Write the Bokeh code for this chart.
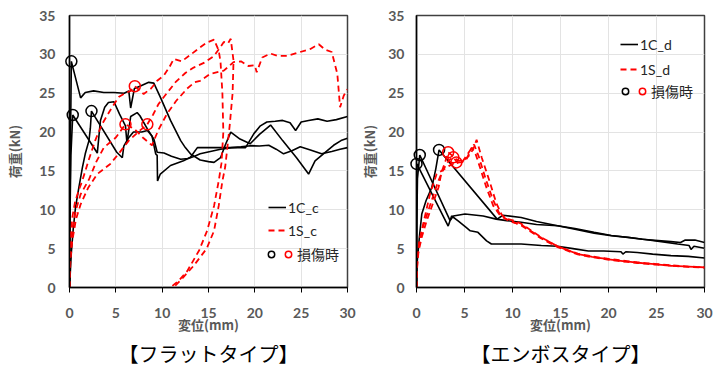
from bokeh.plotting import figure
from bokeh.models import Legend, LegendItem, Title, Range1d, FixedTicker
from bokeh.layouts import row
from bokeh.embed import file_html
from bokeh.resources import INLINE

# ---------------- data ----------------
x_ticks = [0, 5, 10, 15, 20, 25, 30]
y_ticks = [0, 5, 10, 15, 20, 25, 30, 35]

# Flat type, 1C_c (three specimens)
c1_x = [0, 0.05, 0.1, 0.2, 1.2, 1.7, 2.6, 3.7, 4.8, 5.9, 6.4, 6.6, 7.0, 7.6, 8.55, 9.1, 9.8, 10.9, 12.0, 12.5, 13.05, 14.1, 15.0, 15.6, 16.3, 16.8, 17.4, 18.4, 19.5, 20.5, 21.7, 23.0, 24.5, 25.8, 26.5, 27.4, 28.5, 29.3, 30]
c1_y = [0, 8, 18, 29.1, 24.4, 25.1, 25.3, 25.1, 25.1, 25.0, 25.3, 23.1, 25.6, 25.9, 26.4, 26.3, 24.5, 21.5, 18.9, 18.0, 17.2, 16.4, 16.2, 16.1, 16.7, 18.3, 20.0, 19.1, 18.5, 19.7, 20.9, 18.9, 16.7, 14.6, 16.3, 17.2, 18.3, 18.9, 19.2]
c2_x = [0, 0.05, 0.15, 0.35, 3.0, 3.34, 3.8, 4.2, 4.8, 5.4, 6.04, 6.2, 6.6, 7.3, 7.6, 8.4, 9.1, 9.46, 10.2, 11.0, 12.0, 12.8, 13.5, 14.1, 15.2, 16.3, 17.5, 18.5, 19.5, 20.5, 21.5, 22.3, 23.1, 24.0, 24.9, 26.0, 27.2, 28.3, 29.2, 30]
c2_y = [0, 9, 17, 22.2, 17.3, 21.5, 23.2, 23.8, 23.9, 22.3, 20.8, 18.6, 22.0, 22.5, 22.1, 20.4, 19.1, 17.4, 17.3, 16.9, 16.5, 16.6, 16.9, 17.2, 17.5, 17.8, 18.0, 18.1, 18.25, 18.2, 18.3, 17.8, 17.2, 17.6, 18.1, 17.7, 17.2, 17.5, 17.8, 18.0]
c3_x = [0, 0.2, 0.4, 0.65, 1.0, 1.4, 1.7, 2.1, 2.25, 2.37, 5.1, 5.7, 5.86, 6.4, 6.9, 7.8, 8.4, 8.9, 9.3, 9.46, 9.5, 9.8, 10.9, 12.3, 13.05, 13.8, 15.0, 17.0, 19.0, 19.9, 20.6, 21.3, 22.2, 23.0, 23.8, 24.4, 25.0, 25.8, 26.8, 27.8, 28.8, 30]
c3_y = [0, 4.5, 7.5, 10.3, 12.8, 15.5, 17.2, 18.9, 20.5, 22.7, 17.4, 16.7, 18.2, 19.3, 20.0, 20.0, 20.2, 19.5, 17.2, 17.0, 13.7, 14.6, 15.7, 16.3, 16.75, 18.0, 18.0, 18.0, 18.0, 19.8, 20.8, 21.3, 21.4, 21.5, 21.2, 20.2, 21.3, 21.5, 21.7, 21.4, 21.6, 22.0]

# Flat type, 1S_c (three specimens)
s1_x = [0, 0.05, 0.15, 0.3, 0.6, 1.0, 1.37, 2.1, 2.8, 3.5, 4.4, 5.3, 6.0, 6.6, 7.05, 8.0, 8.8, 9.46, 10.2, 10.8, 11.25, 12.1, 13.0, 14.1, 14.8, 15.6, 16.1, 16.3, 16.5, 16.6, 16.4, 16.1, 15.6, 14.85, 14.0, 12.7, 11.8, 10.9]
s1_y = [0, 4, 7, 9, 11, 12.5, 13.7, 16.5, 19.0, 21.0, 22.8, 24.5, 25.0, 25.3, 25.9, 24.9, 25.6, 26.6, 27.3, 28.4, 29.4, 29.1, 29.9, 30.9, 31.5, 31.9, 30.5, 29.0, 25.0, 20.0, 16.0, 13.7, 10.5, 7.3, 4.8, 2.1, 0.9, 0]
s2_x = [0, 0.1, 0.3, 0.7, 1.2, 2.1, 2.9, 3.7, 5.0, 6.04, 7.0, 8.0, 8.9, 9.6, 10.5, 11.5, 12.7, 13.5, 14.1, 15.2, 16.65, 17.7, 18.5, 19.3, 20.0, 20.2, 20.8, 21.7, 22.5, 23.5, 24.6, 26.0, 26.9, 27.6, 28.3, 28.9, 29.2, 29.6, 30]
s2_y = [0, 4.5, 7.5, 10, 12, 13.9, 16.2, 18.0, 19.3, 21.0, 20.4, 19.2, 18.3, 20.3, 22.3, 24.0, 25.6, 26.4, 26.6, 27.5, 27.9, 29.0, 29.1, 28.5, 28.6, 27.7, 29.6, 30.1, 29.8, 29.8, 30.2, 30.7, 31.3, 30.6, 30.3, 27.5, 23.2, 24.7, 25.5]
s3_x = [0, 0.1, 0.3, 0.7, 1.2, 2.0, 3.0, 4.4, 5.3, 6.4, 7.4, 8.4, 9.0, 9.6, 10.5, 11.5, 12.5, 13.4, 14.5, 15.6, 16.2, 16.65, 17.1, 17.4, 17.7, 17.6, 17.3, 17.0, 16.8, 16.5, 16.1, 15.6, 14.8, 13.4, 12.2, 11.2]
s3_y = [0, 3.5, 6, 8.8, 10.7, 12.8, 14.6, 15.9, 17.2, 18.9, 20.0, 21.0, 22.2, 23.6, 25.0, 26.5, 27.6, 28.3, 28.9, 29.8, 30.8, 31.6, 31.4, 32.0, 29.2, 25.0, 21.0, 17.6, 15.5, 13.7, 10.5, 7.3, 5.0, 2.8, 1.2, 0]

dmg_c_black_x = [0.2, 0.35, 2.37]
dmg_c_black_y = [29.1, 22.2, 22.7]
dmg_c_red_x = [7.05, 6.04, 8.4]
dmg_c_red_y = [25.9, 21.0, 21.0]

# Emboss type, 1C_d
d1_x = [0, 0.02, 0.04, 3.3, 3.66, 4.3, 5.2, 5.6, 6.4, 7.3, 7.8, 9.4, 10.9, 13.0, 14.7, 16.3, 17.9, 19.5, 21.3, 21.5, 21.8, 23.0, 24.6, 26.5, 28.3, 30]
d1_y = [0, 9, 15.9, 7.9, 9.2, 8.6, 7.7, 7.3, 7.1, 6.0, 5.6, 5.6, 5.6, 5.4, 5.3, 5.0, 4.7, 4.7, 4.6, 4.3, 4.6, 4.5, 4.3, 4.1, 4.0, 3.8]
d2_x = [0, 0.03, 0.1, 0.34, 3.5, 3.84, 5.05, 6.95, 8.3, 9.4, 10.9, 12.5, 14.7, 16.5, 18.5, 20.3, 22.4, 24.0, 25.5, 27.2, 28.4, 28.6, 28.9, 30]
d2_y = [0, 8, 14, 17.05, 8.6, 9.2, 9.45, 9.2, 8.8, 8.6, 8.4, 8.1, 7.95, 7.6, 7.1, 6.7, 6.4, 6.15, 5.9, 5.6, 5.4, 4.9, 5.3, 5.05]
d3_x = [0, 0.05, 0.3, 0.55, 1.0, 1.6, 2.0, 2.35, 8.4, 9.0, 10.9, 12.5, 14.7, 16.5, 18.5, 20.3, 22.0, 23.5, 25.5, 26.5, 27.5, 28.0, 29.0, 30]
d3_y = [0, 3, 6.5, 9.45, 11.2, 12.9, 15.2, 17.7, 8.8, 9.3, 9.0, 8.5, 7.95, 7.5, 7.0, 6.66, 6.45, 6.2, 6.0, 5.9, 5.8, 6.1, 6.1, 5.8]

# Emboss type, 1S_d
e1_x = [0, 0.05, 0.2, 0.55, 1.07, 1.76, 2.3, 2.6, 3.0, 3.3, 3.8, 4.4, 5.0, 5.5, 5.9, 6.26, 6.8, 7.6, 8.3, 8.9, 9.5, 10.2, 10.9, 12.0, 13.0, 14.7, 16.8, 18.3, 19.9, 21.5, 23.0, 24.8, 26.5, 28.3, 30]
e1_y = [0, 2.5, 4.5, 6.5, 8.6, 11.0, 12.9, 14.8, 16.2, 17.4, 16.9, 16.3, 16.4, 17.0, 17.8, 19.0, 16.7, 13.7, 10.9, 9.3, 8.8, 8.6, 8.2, 7.3, 6.45, 5.3, 4.3, 3.95, 3.65, 3.4, 3.2, 3.0, 2.8, 2.7, 2.6]
e2_x = [0, 0.05, 0.25, 0.6, 1.2, 1.8, 2.3, 2.8, 3.4, 3.84, 4.3, 4.8, 5.4, 6.0, 6.5, 7.2, 7.9, 8.6, 9.2, 9.9, 10.9, 12.0, 13.0, 14.7, 16.8, 18.3, 19.9, 21.5, 23.0, 24.8, 26.5, 28.3, 30]
e2_y = [0, 3, 5.5, 7.5, 9.8, 12.0, 13.8, 15.2, 16.4, 16.75, 16.0, 16.2, 17.3, 18.4, 16.8, 14.0, 11.5, 9.6, 8.9, 8.5, 8.0, 7.1, 6.3, 5.2, 4.25, 3.9, 3.6, 3.35, 3.15, 2.95, 2.8, 2.65, 2.55]
e3_x = [0, 0.1, 0.3, 0.7, 1.4, 2.1, 2.6, 3.1, 3.6, 4.15, 4.7, 5.2, 5.75, 6.1, 6.6, 7.3, 8.0, 8.7, 9.3, 10.0, 10.9, 12.0, 13.0, 14.7, 16.8, 18.3, 19.9, 21.5, 23.0, 24.8, 26.5, 28.3, 30]
e3_y = [0, 3.5, 6, 8.2, 12.0, 14.6, 15.0, 15.4, 15.8, 16.1, 16.1, 16.5, 18.0, 17.4, 15.5, 12.8, 10.5, 9.3, 8.8, 8.4, 8.1, 7.2, 6.4, 5.3, 4.35, 4.0, 3.7, 3.45, 3.25, 3.05, 2.85, 2.7, 2.6]

dmg_d_black_x = [0.0, 0.34, 2.35]
dmg_d_black_y = [15.9, 17.05, 17.7]
dmg_d_red_x = [3.3, 3.84, 4.15]
dmg_d_red_y = [17.4, 16.75, 16.1]

# ---------------- styling ----------------
LAT = "Lato, 'Noto Sans CJK JP'"
JP = "'Noto Sans CJK JP'"
GRAY = "#595959"


def make_fig(width, left, right, ylab_standoff, ytick_standoff, title_text):
    p = figure(width=width, height=367, x_range=Range1d(0, 30), y_range=Range1d(0, 35),
               output_backend="svg", toolbar_location=None,
               min_border_left=left, min_border_right=right,
               min_border_top=15, min_border_bottom=80)
    p.background_fill_color = "white"
    p.border_fill_color = "white"
    p.outline_line_color = "#404040"
    p.outline_line_width = 1.5
    p.xaxis.ticker = FixedTicker(ticks=x_ticks)
    p.yaxis.ticker = FixedTicker(ticks=y_ticks)
    p.xaxis.minor_tick_line_color = None
    p.yaxis.minor_tick_line_color = None
    for ax in (p.xaxis, p.yaxis):
        ax.axis_line_color = "black"
        ax.axis_line_width = 1.5
        ax.major_label_text_font = "Lato"
        ax.major_label_text_font_style = "bold"
        ax.major_label_text_font_size = "14px"
        ax.major_label_text_color = GRAY
        ax.axis_label_text_font = JP
        ax.axis_label_text_font_style = "bold"
        ax.axis_label_text_font_size = "13px"
        ax.axis_label_text_color = GRAY
    p.xaxis.major_tick_out = 5
    p.xaxis.major_tick_in = 0
    p.xaxis.major_tick_line_color = "black"
    p.yaxis.major_tick_out = 0
    p.yaxis.major_tick_in = 0
    p.xaxis.major_label_standoff = 15
    p.yaxis.major_label_standoff = ytick_standoff
    p.xaxis.axis_label_standoff = -6
    p.yaxis.axis_label_standoff = ylab_standoff
    p.xaxis.axis_label = "変位(mm)"
    p.yaxis.axis_label = "荷重(kN)"
    p.grid.grid_line_color = "#e3e3e3"
    p.grid.grid_line_width = 1
    t = Title(text=title_text, align="center", text_font=JP, text_font_size="20px",
              text_font_style="normal", text_color="black", standoff=0, offset=0)
    p.add_layout(t, "below")
    return p


def draw(p, blacks, reds, bx, by, rx, ry, lbl_c, lbl_s, loc_a, loc_b, pitch):
    rb = None
    for (x, y) in blacks:
        rb = p.line(x, y, line_color="black", line_width=1.6)
    rr = None
    for (x, y) in reds:
        rr = p.line(x, y, line_color="#ff0000", line_width=1.8, line_dash="6 4")
    cb = p.scatter(bx, by, marker="circle", size=11, fill_color=None,
                   line_color="black", line_width=1.5, level="overlay")
    cr = p.scatter(rx, ry, marker="circle", size=11, fill_color=None,
                   line_color="#ff0000", line_width=1.5, level="overlay")
    leg_a = Legend(items=[LegendItem(label=lbl_c, renderers=[rb]),
                          LegendItem(label=lbl_s, renderers=[rr])],
                   location=loc_a, orientation="vertical",
                   glyph_width=18, glyph_height=20, label_standoff=2,
                   spacing=pitch - 20, padding=0, margin=0, label_height=20,
                   label_text_font=LAT, label_text_font_size="14px",
                   label_text_color="#262626",
                   background_fill_alpha=0, border_line_alpha=0)
    leg_b = Legend(items=[LegendItem(label="", renderers=[cb]),
                          LegendItem(label="損傷時", renderers=[cr])],
                   location=loc_b, orientation="horizontal",
                   glyph_width=16, glyph_height=20, label_standoff=1,
                   label_width=0, spacing=-5, padding=0, margin=0, label_height=20,
                   label_text_font=JP, label_text_font_size="14px",
                   label_text_color="#262626",
                   background_fill_alpha=0, border_line_alpha=0)
    p.add_layout(leg_a, "center")
    p.add_layout(leg_b, "center")


p1 = make_fig(357, 69, 10, 12, 14, "【フラットタイプ】")
draw(p1, [(c1_x, c1_y), (c2_x, c2_y), (c3_x, c3_y)],
     [(s1_x, s1_y), (s2_x, s2_y), (s3_x, s3_y)],
     dmg_c_black_x, dmg_c_black_y, dmg_c_red_x, dmg_c_red_y,
     "1C_c", "1S_c", (199, 47), (194, 23), 23)

p2 = make_fig(367, 58, 20, 6, 12, "【エンボスタイプ】")
draw(p2, [(d1_x, d1_y), (d2_x, d2_y), (d3_x, d3_y)],
     [(e1_x, e1_y), (e2_x, e2_y), (e3_x, e3_y)],
     dmg_d_black_x, dmg_d_black_y, dmg_d_red_x, dmg_d_red_y,
     "1C_d", "1S_d", (204, 208), (201, 186), 25)

layout = row(p1, p2)
open("out.html", "w").write(file_html(layout, INLINE))
